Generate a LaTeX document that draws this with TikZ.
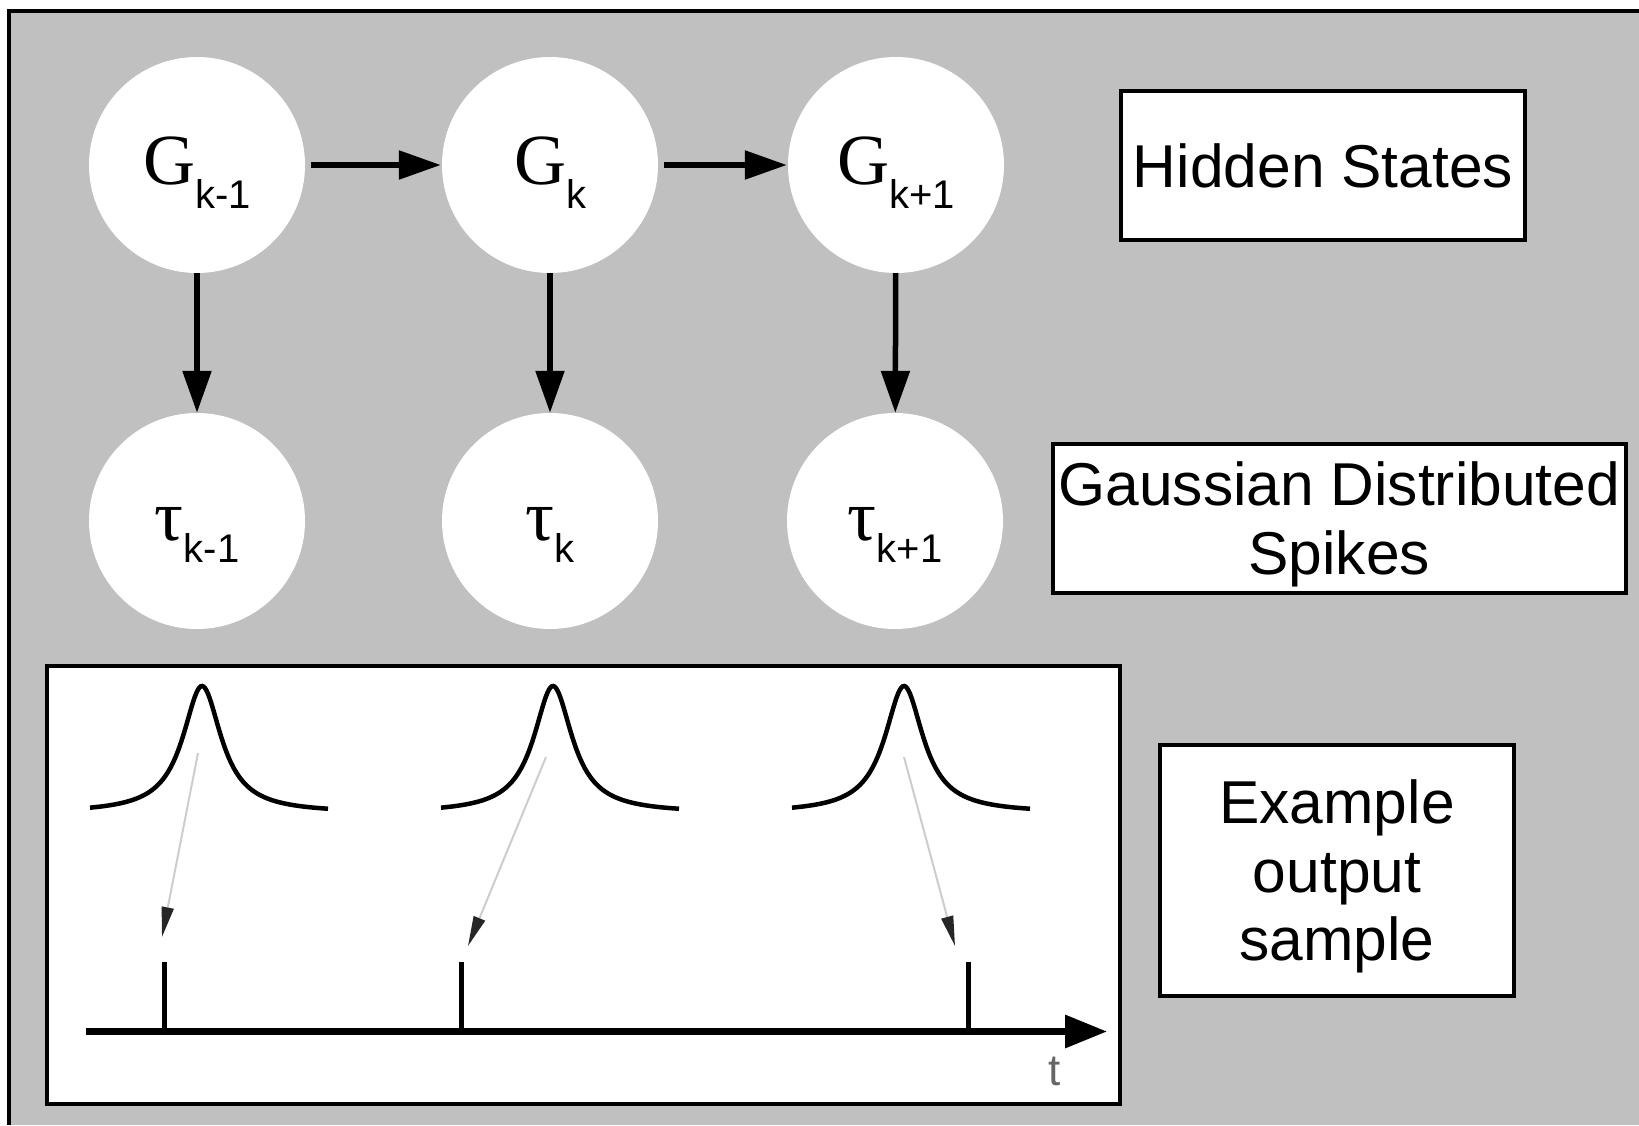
\documentclass[tikz,border=0pt]{standalone}
\usepackage{fontspec}
\setmainfont{Liberation Sans}
\newfontfamily\serifsym{Liberation Serif}
\usetikzlibrary{arrows.meta}
\definecolor{panelgray}{RGB}{192,192,192}
\definecolor{guidegray}{RGB}{205,205,205}

% state label: serif symbol with a sans subscript
\newcommand\statelabel[3]{{\serifsym\fontsize{72pt}{72pt}\selectfont #1}\raisebox{#3}{\fontsize{40pt}{40pt}\selectfont #2}}

\begin{document}
\begin{tikzpicture}[x=1pt,y=-1pt,
  state/.style={circle, fill=white, inner sep=0pt, minimum size=216pt,
    text height=52pt, text depth=14pt},
  link/.style={line width=5.5pt, -{Triangle[length=42pt,width=28pt]}},
  legend/.style={draw, line width=4pt, fill=white, align=center, inner sep=0pt,
    font=\fontsize{60.5pt}{68.5pt}\selectfont, text depth=0pt},
  peak/.style={line width=4.5pt},
  sampling/.style={draw=guidegray, line width=2pt,
    -{Triangle[length=30pt,width=12pt,color=black!85]}},
  spike/.style={line width=5pt},
  timeaxis/.style={line width=6.5pt, -{Triangle[length=42pt,width=32pt]}},
]
\useasboundingbox (0,0) rectangle (1639,1125);

% grey canvas with its frame
\fill[panelgray] (9,10.5) rectangle (1639,1125);
\draw[line width=4pt] (9,1125) -- (9,10.5) -- (1639,10.5);

% hidden states and observed spike times
\node[state] (g1) at (197,165) {\statelabel{G}{k-1}{-24pt}};
\node[state] (g2) at (550,165) {\statelabel{G}{k}{-24pt}};
\node[state] (g3) at (896,165) {\statelabel{G}{k+1}{-24pt}};
\node[state] (t1) at (197,521) {\statelabel{τ}{k-1}{-22pt}};
\node[state] (t2) at (550,521) {\statelabel{τ}{k}{-22pt}};
\node[state] (t3) at (895,521) {\statelabel{τ}{k+1}{-22pt}};

\draw[link, shorten <=6pt, shorten >=1pt] (g1) -- (g2);
\draw[link, shorten <=6pt, shorten >=1pt] (g2) -- (g3);
\draw[link] (g1) -- (t1);
\draw[link] (g2) -- (t2);
\draw[link] (g3) -- (t3);

% legend boxes
\node[legend, minimum width=404pt, minimum height=149.5pt] (lhidden) at (1323,165.25) {Hidden States};
\node[legend, minimum width=573.5pt, minimum height=149pt] (lspikes) at (1339.25,518) {Gaussian Distributed\\Spikes};
\node[legend, minimum width=354pt, minimum height=251pt] (lsample) at (1337,870.5) {Example\\output\\sample};

% example output panel
\draw[line width=4pt, fill=white] (46.5,666) rectangle (1120,1104);

% spike-time densities
\foreach \c in {202,553,904}{
  \draw[peak] plot[domain=-112:126, samples=160, variable=\u]
    ({\c+\u}, {813 - 127/(1+(\u/23.5)^2)});
}

% sampled spike times
\coordinate (d1) at (198,753);   \coordinate (p1) at (162,937);
\coordinate (d2) at (546,757);   \coordinate (p2) at (468,946);
\coordinate (d3) at (904,757);   \coordinate (p3) at (955,946);
\draw[sampling] (d1) -- (p1);
\draw[sampling] (d2) -- (p2);
\draw[sampling] (d3) -- (p3);

% time axis with spikes
\coordinate (ax0) at (86,1031.5);
\coordinate (ax1) at (1107,1031.5);
\draw[timeaxis] (ax0) -- (ax1);
\foreach \x in {164,461,968}{
  \draw[spike] (\x,962) -- (\x,1031.5);
}
\node[anchor=base, text=black!60, inner sep=0pt, font=\fontsize{44pt}{44pt}\selectfont] (tlabel) at (1055,1085) {t};
\end{tikzpicture}
\end{document}
